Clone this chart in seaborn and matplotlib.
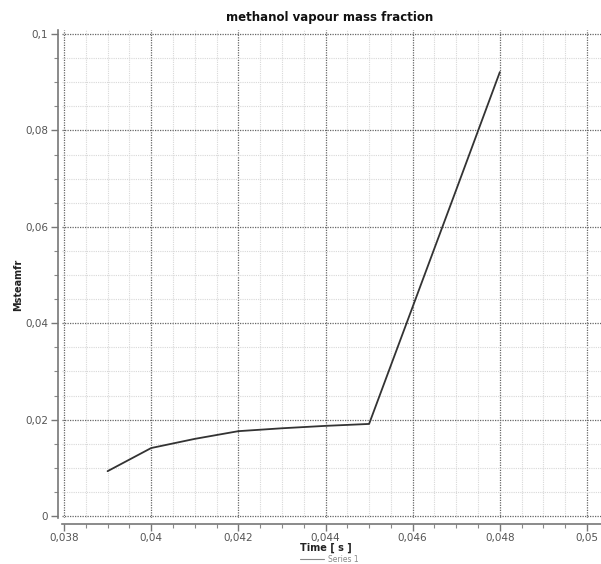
import matplotlib
matplotlib.use("Agg")
import matplotlib.pyplot as plt
import seaborn as sns
import pandas as pd
from matplotlib.ticker import MultipleLocator, FuncFormatter
from matplotlib.lines import Line2D

time_s = [0.039, 0.040, 0.041, 0.042, 0.043, 0.044, 0.045, 0.046, 0.047, 0.048]
msteamfr = [0.0093, 0.0141, 0.0160, 0.0176, 0.0182, 0.0187, 0.0191, 0.0434, 0.0677, 0.0921]
series_name = "Series 1"

df = pd.DataFrame({"Time": time_s, "Msteamfr": msteamfr})

sns.set_theme(style="white")
plt.rcParams['font.family'] = ['DejaVu Sans']

W, H = 601, 564
fig = plt.figure(figsize=(W / 100, H / 100), dpi=100)
# axes in pixel coordinates
L, R, T, B = 62, 601, 30, 518
ax = fig.add_axes([L / W, 1 - B / H, (R - L) / W, (B - T) / H])

sns.lineplot(data=df, x="Time", y="Msteamfr", ax=ax, color="#333333", linewidth=1.3)

ax.set_xlim(0.038 - 2 / 43600, 0.05 + 14 / 43600)
ax.set_ylim(-2 / 4820, 0.1 + 4 / 4820)

ax.xaxis.set_major_locator(MultipleLocator(0.002))
ax.xaxis.set_minor_locator(MultipleLocator(0.0005))
ax.yaxis.set_major_locator(MultipleLocator(0.02))
ax.yaxis.set_minor_locator(MultipleLocator(0.005))

def fmt(v, pos):
    s = f"{v:.3f}".rstrip("0").rstrip(".")
    if s in ("-0", ""):
        s = "0"
    return s.replace(".", ",")

ax.xaxis.set_major_formatter(FuncFormatter(fmt))
ax.yaxis.set_major_formatter(FuncFormatter(fmt))

ax.grid(which="major", color="#666666", linestyle=(0, (1, 1)), linewidth=0.9)
ax.grid(which="minor", color="#d8d8d8", linestyle=(0, (1, 1)), linewidth=0.8)
ax.set_axisbelow(True)

for s in ("top", "right"):
    ax.spines[s].set_visible(False)
ax.spines["left"].set_position(("outward", 3))
ax.spines["bottom"].set_position(("outward", 4))
for s in ("left", "bottom"):
    ax.spines[s].set_color("#777777")
    ax.spines[s].set_linewidth(1.2)

ax.tick_params(which="major", direction="out", length=5, width=1, color="#777777",
               labelsize=7.5, labelcolor="#555555", bottom=True, left=True, pad=2)
ax.tick_params(which="minor", direction="out", length=3, width=0.8, color="#888888",
               bottom=True, left=True)

ax.set_xlabel("")
ax.set_ylabel("")
fig.text(0.548, 1 - 17 / H, "methanol vapour mass fraction", ha="center", va="center",
         fontsize=8.5, fontweight="bold", color="#111111")
fig.text(18 / W, 1 - 285 / H, "Msteamfr", rotation=90, ha="center", va="center",
         fontsize=7, fontweight="bold", color="#222222")
fig.text(300 / W, 1 - 548 / H, "Time [ s ]", ha="left", va="center",
         fontsize=7, fontweight="bold", color="#222222")

fig.add_artist(Line2D([300 / W, 324 / W], [1 - 559 / H, 1 - 559 / H], color="#888888", linewidth=0.8))
fig.text(328 / W, 1 - 559 / H, series_name, ha="left", va="center", fontsize=5.5, color="#888888")

fig.savefig("out.png", dpi=100)
